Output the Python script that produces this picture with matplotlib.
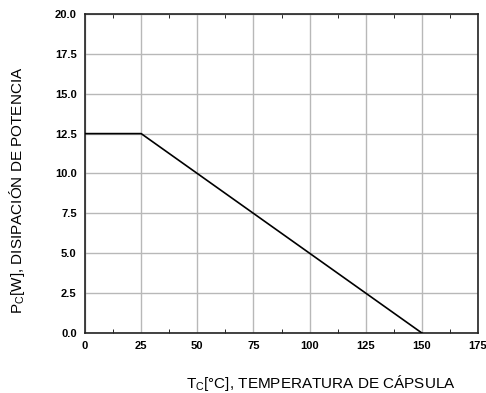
import matplotlib
matplotlib.use("Agg")
import matplotlib.pyplot as plt
from matplotlib.ticker import MultipleLocator

plt.rcParams["font.family"] = ["Liberation Sans", "DejaVu Sans"]

temp_c = [0, 25, 150]
power_w = [12.5, 12.5, 0.0]
x_ticks = [0, 25, 50, 75, 100, 125, 150, 175]
y_ticks = [0.0, 2.5, 5.0, 7.5, 10.0, 12.5, 15.0, 17.5, 20.0]

fig = plt.figure(figsize=(4.86, 3.93), dpi=100)
ax = fig.add_axes([0.175, 0.1527, 0.8085, 0.8117])

ax.plot(temp_c, power_w, color="black", linewidth=1.2, zorder=3)

ax.set_xlim(0, 175)
ax.set_ylim(0, 20)
ax.set_xticks(x_ticks)
ax.set_yticks(y_ticks)
ax.set_xticklabels([str(t) for t in x_ticks], fontsize=8, fontweight="bold")
ax.set_yticklabels(["%.1f" % t for t in y_ticks], fontsize=8, fontweight="bold")
ax.xaxis.set_minor_locator(MultipleLocator(12.5))
ax.tick_params(axis="both", which="major", length=0, pad=6)
ax.tick_params(axis="x", which="minor", direction="in", length=3, top=True, bottom=True)
ax.grid(True, which="major", color="#b8b8b8", linewidth=1)
for s in ax.spines.values():
    s.set_linewidth(1.2)
    s.set_color("#222222")

fig.text(0.66, 0.0127, "T$_\\mathregular{C}$[°C], TEMPERATURA DE CÁPSULA", ha="center", va="baseline", fontsize=11)
fig.text(0.035, 0.517, "P$_\\mathregular{C}$[W], DISIPACIÓN DE POTENCIA", ha="center", va="center", rotation=90, fontsize=11)

fig.savefig("out.png", dpi=100)
